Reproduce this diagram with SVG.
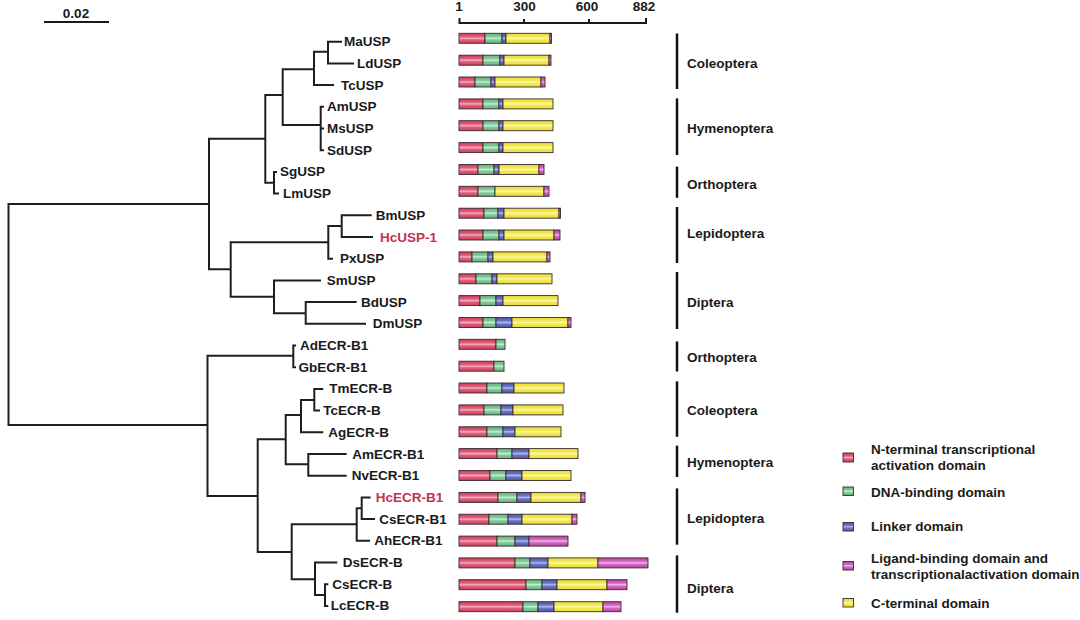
<svg xmlns="http://www.w3.org/2000/svg" width="1080" height="620" viewBox="0 0 1080 620">
<defs>
<linearGradient id="gr" x1="0" y1="0" x2="0" y2="1"><stop offset="0" stop-color="#c93a5a"/><stop offset="0.35" stop-color="#e0617c"/><stop offset="0.5" stop-color="#f6b0c0"/><stop offset="0.65" stop-color="#e0617c"/><stop offset="1" stop-color="#c93a5a"/></linearGradient>
<linearGradient id="gg" x1="0" y1="0" x2="0" y2="1"><stop offset="0" stop-color="#5fb27c"/><stop offset="0.35" stop-color="#86cc9c"/><stop offset="0.5" stop-color="#c4f0d2"/><stop offset="0.65" stop-color="#86cc9c"/><stop offset="1" stop-color="#5fb27c"/></linearGradient>
<linearGradient id="gb" x1="0" y1="0" x2="0" y2="1"><stop offset="0" stop-color="#4a54a8"/><stop offset="0.35" stop-color="#6c76c4"/><stop offset="0.5" stop-color="#b4bcf0"/><stop offset="0.65" stop-color="#6c76c4"/><stop offset="1" stop-color="#4a54a8"/></linearGradient>
<linearGradient id="gy" x1="0" y1="0" x2="0" y2="1"><stop offset="0" stop-color="#e6dc30"/><stop offset="0.35" stop-color="#f2ea58"/><stop offset="0.5" stop-color="#fcf8a8"/><stop offset="0.65" stop-color="#f2ea58"/><stop offset="1" stop-color="#e6dc30"/></linearGradient>
<linearGradient id="gp" x1="0" y1="0" x2="0" y2="1"><stop offset="0" stop-color="#b8409e"/><stop offset="0.35" stop-color="#d06cc0"/><stop offset="0.5" stop-color="#f4b4ec"/><stop offset="0.65" stop-color="#d06cc0"/><stop offset="1" stop-color="#b8409e"/></linearGradient>
</defs>
<style>
text{font-family:"Liberation Sans",Arial,sans-serif;font-weight:bold;font-size:13.5px;fill:#1a1a1a}
.hl{fill:#c4314f}
.mid{text-anchor:middle}
.tree path{fill:none;stroke:#1e1e1e;stroke-width:2}
.ord{stroke:#111;stroke-width:2.5}
.seg{stroke:#3a2a30;stroke-width:0.9}
.bg{fill:#ffffff;stroke:none}
.r{fill:url(#gr)}.g{fill:url(#gg)}.b{fill:url(#gb)}.y{fill:url(#gy)}.p{fill:url(#gp)}
.ax{stroke:#1a1a1a;stroke-width:2;fill:none}
</style>
<rect class="bg" width="1080" height="620"/>

<g id="scale-bar">
<text x="76" y="18" class="mid">0.02</text>
<line x1="44" y1="22" x2="109" y2="22" class="ax"/>
</g>

<g id="axis">
<text x="459" y="11" class="mid">1</text>
<text x="524.5" y="11" class="mid">300</text>
<text x="587" y="11" class="mid">600</text>
<text x="644" y="11" class="mid">882</text>
<path class="ax" d="M459.5,18 V23 H646 V18 M524,19 V24 M589,19 V24"/>
</g>

<g id="connectors" class="tree">
<path d="M209,204 H8.5 V425 H207.5"/>
<path d="M265.3,138.7 H209 V269.3 H230.7"/>
<path d="M282.7,95 H265.3 V182.7 H274"/>
<path d="M314,69.3 H282.7 V125 H320.7"/>
<path d="M328,51.7 H314 V85.1 H334"/>
<path d="M342,41.7 H328 V63.4 H354"/>
<path d="M324,106.8 H320.7 V150.2 H324 M320.7,128.5 H324"/>
<path d="M277,171.9 H274 V193.6 H279"/>
<path d="M328.3,242.3 H230.7 V296.7 H274"/>
<path d="M341.7,226 H328.3 V258.7 H333"/>
<path d="M371.7,215.3 H341.7 V237 H373"/>
<path d="M321,280.4 H274 V313.3 H305.7"/>
<path d="M356.7,302.1 H305.7 V323.8 H366"/>
<path d="M293.3,355.7 H207.5 V496 H257.7"/>
<path d="M296,345.5 H293.3 V367.2 H296"/>
<path d="M285.7,439.3 H257.7 V552 H291.7"/>
<path d="M301,415 H285.7 V464.3 H308.3"/>
<path d="M314.3,400 H301 V432.3 H323.3"/>
<path d="M323.3,388.9 H314.3 V410.6 H320"/>
<path d="M346.7,454 H308.3 V475.7 H346.7"/>
<path d="M356.7,524.3 H291.7 V579.3 H315"/>
<path d="M361.7,508.3 H356.7 V540.8 H370"/>
<path d="M370.7,497.4 H361.7 V519.1 H375"/>
<path d="M337.3,562.5 H315 V595 H325"/>
<path d="M328.3,584.2 H325 V605.9 H328.3"/>
</g>

<g id="MaUSP"><text x="344" y="46.2">MaUSP</text>
<rect class="seg r" x="459" y="33.3" width="26" height="10"/><rect class="seg g" x="485" y="33.3" width="17" height="10"/><rect class="seg b" x="502" y="33.3" width="4" height="10"/><rect class="seg y" x="506" y="33.3" width="44" height="10"/><rect class="seg p" x="550" y="33.3" width="1.5" height="10"/></g>
<g id="LdUSP"><text x="357" y="67.9">LdUSP</text>
<rect class="seg r" x="459" y="55.2" width="24" height="10"/><rect class="seg g" x="483" y="55.2" width="17" height="10"/><rect class="seg b" x="500" y="55.2" width="4" height="10"/><rect class="seg y" x="504" y="55.2" width="45" height="10"/><rect class="seg p" x="549" y="55.2" width="2" height="10"/></g>
<g id="TcUSP"><text x="341" y="89.6">TcUSP</text>
<rect class="seg r" x="459" y="77" width="16" height="10"/><rect class="seg g" x="475" y="77" width="16" height="10"/><rect class="seg b" x="491" y="77" width="4" height="10"/><rect class="seg y" x="495" y="77" width="46" height="10"/><rect class="seg p" x="541" y="77" width="4" height="10"/></g>
<g id="AmUSP"><text x="327" y="111.3">AmUSP</text>
<rect class="seg r" x="459" y="98.9" width="24" height="10"/><rect class="seg g" x="483" y="98.9" width="16" height="10"/><rect class="seg b" x="499" y="98.9" width="4" height="10"/><rect class="seg y" x="503" y="98.9" width="50" height="10"/></g>
<g id="MsUSP"><text x="327" y="133">MsUSP</text>
<rect class="seg r" x="459" y="120.7" width="24" height="10"/><rect class="seg g" x="483" y="120.7" width="16" height="10"/><rect class="seg b" x="499" y="120.7" width="4" height="10"/><rect class="seg y" x="503" y="120.7" width="50" height="10"/></g>
<g id="SdUSP"><text x="327" y="154.7">SdUSP</text>
<rect class="seg r" x="459" y="142.6" width="24" height="10"/><rect class="seg g" x="483" y="142.6" width="16" height="10"/><rect class="seg b" x="499" y="142.6" width="4" height="10"/><rect class="seg y" x="503" y="142.6" width="50" height="10"/></g>
<g id="SgUSP"><text x="280" y="176.4">SgUSP</text>
<rect class="seg r" x="459" y="164.5" width="19" height="10"/><rect class="seg g" x="478" y="164.5" width="16" height="10"/><rect class="seg b" x="494" y="164.5" width="5" height="10"/><rect class="seg y" x="499" y="164.5" width="40" height="10"/><rect class="seg p" x="539" y="164.5" width="5" height="10"/></g>
<g id="LmUSP"><text x="283" y="198.1">LmUSP</text>
<rect class="seg r" x="459" y="186.3" width="19" height="10"/><rect class="seg g" x="478" y="186.3" width="17" height="10"/><rect class="seg y" x="495" y="186.3" width="49" height="10"/><rect class="seg p" x="544" y="186.3" width="5" height="10"/></g>
<g id="BmUSP"><text x="375.7" y="219.8">BmUSP</text>
<rect class="seg r" x="459" y="208.2" width="25" height="10"/><rect class="seg g" x="484" y="208.2" width="14" height="10"/><rect class="seg b" x="498" y="208.2" width="6" height="10"/><rect class="seg y" x="504" y="208.2" width="55" height="10"/><rect class="seg p" x="559" y="208.2" width="1.5" height="10"/></g>
<g id="HcUSP-1"><text x="380" y="241.5" class="hl">HcUSP-1</text>
<rect class="seg r" x="459" y="230" width="24" height="10"/><rect class="seg g" x="483" y="230" width="16" height="10"/><rect class="seg b" x="499" y="230" width="5" height="10"/><rect class="seg y" x="504" y="230" width="50" height="10"/><rect class="seg p" x="554" y="230" width="6" height="10"/></g>
<g id="PxUSP"><text x="340" y="263.2">PxUSP</text>
<rect class="seg r" x="459" y="251.9" width="13" height="10"/><rect class="seg g" x="472" y="251.9" width="16" height="10"/><rect class="seg b" x="488" y="251.9" width="5" height="10"/><rect class="seg y" x="493" y="251.9" width="54" height="10"/><rect class="seg p" x="547" y="251.9" width="3" height="10"/></g>
<g id="SmUSP"><text x="326.7" y="284.9">SmUSP</text>
<rect class="seg r" x="459" y="273.8" width="17" height="10"/><rect class="seg g" x="476" y="273.8" width="16" height="10"/><rect class="seg b" x="492" y="273.8" width="5" height="10"/><rect class="seg y" x="497" y="273.8" width="55" height="10"/></g>
<g id="BdUSP"><text x="361" y="306.6">BdUSP</text>
<rect class="seg r" x="459" y="295.6" width="21" height="10"/><rect class="seg g" x="480" y="295.6" width="16" height="10"/><rect class="seg b" x="496" y="295.6" width="7" height="10"/><rect class="seg y" x="503" y="295.6" width="55" height="10"/></g>
<g id="DmUSP"><text x="372.7" y="328.3">DmUSP</text>
<rect class="seg r" x="459" y="317.5" width="24" height="10"/><rect class="seg g" x="483" y="317.5" width="13" height="10"/><rect class="seg b" x="496" y="317.5" width="16" height="10"/><rect class="seg y" x="512" y="317.5" width="56" height="10"/><rect class="seg p" x="568" y="317.5" width="3" height="10"/></g>
<g id="AdECR-B1"><text x="300" y="350">AdECR-B1</text>
<rect class="seg r" x="459" y="339.3" width="37" height="10"/><rect class="seg g" x="496" y="339.3" width="9" height="10"/></g>
<g id="GbECR-B1"><text x="298.5" y="371.7">GbECR-B1</text>
<rect class="seg r" x="459" y="361.2" width="35" height="10"/><rect class="seg g" x="494" y="361.2" width="10" height="10"/></g>
<g id="TmECR-B"><text x="329.3" y="393.4">TmECR-B</text>
<rect class="seg r" x="459" y="383" width="28" height="10"/><rect class="seg g" x="487" y="383" width="15" height="10"/><rect class="seg b" x="502" y="383" width="12" height="10"/><rect class="seg y" x="514" y="383" width="50" height="10"/></g>
<g id="TcECR-B"><text x="323.3" y="415.1">TcECR-B</text>
<rect class="seg r" x="459" y="404.9" width="25" height="10"/><rect class="seg g" x="484" y="404.9" width="17" height="10"/><rect class="seg b" x="501" y="404.9" width="12" height="10"/><rect class="seg y" x="513" y="404.9" width="50" height="10"/></g>
<g id="AgECR-B"><text x="328.3" y="436.8">AgECR-B</text>
<rect class="seg r" x="459" y="426.8" width="28" height="10"/><rect class="seg g" x="487" y="426.8" width="16" height="10"/><rect class="seg b" x="503" y="426.8" width="12" height="10"/><rect class="seg y" x="515" y="426.8" width="46" height="10"/></g>
<g id="AmECR-B1"><text x="352.3" y="458.5">AmECR-B1</text>
<rect class="seg r" x="459" y="448.6" width="38" height="10"/><rect class="seg g" x="497" y="448.6" width="15" height="10"/><rect class="seg b" x="512" y="448.6" width="17" height="10"/><rect class="seg y" x="529" y="448.6" width="49" height="10"/></g>
<g id="NvECR-B1"><text x="351.7" y="480.2">NvECR-B1</text>
<rect class="seg r" x="459" y="470.5" width="31" height="10"/><rect class="seg g" x="490" y="470.5" width="16" height="10"/><rect class="seg b" x="506" y="470.5" width="16" height="10"/><rect class="seg y" x="522" y="470.5" width="49" height="10"/></g>
<g id="HcECR-B1"><text x="375.7" y="501.9" class="hl">HcECR-B1</text>
<rect class="seg r" x="459" y="492.4" width="39" height="10"/><rect class="seg g" x="498" y="492.4" width="19" height="10"/><rect class="seg b" x="517" y="492.4" width="14" height="10"/><rect class="seg y" x="531" y="492.4" width="50" height="10"/><rect class="seg p" x="581" y="492.4" width="4" height="10"/></g>
<g id="CsECR-B1"><text x="379.3" y="523.6">CsECR-B1</text>
<rect class="seg r" x="459" y="514.2" width="30" height="10"/><rect class="seg g" x="489" y="514.2" width="19" height="10"/><rect class="seg b" x="508" y="514.2" width="14" height="10"/><rect class="seg y" x="522" y="514.2" width="50" height="10"/><rect class="seg p" x="572" y="514.2" width="5" height="10"/></g>
<g id="AhECR-B1"><text x="374.3" y="545.3">AhECR-B1</text>
<rect class="seg r" x="459" y="536.1" width="38" height="10"/><rect class="seg g" x="497" y="536.1" width="18" height="10"/><rect class="seg b" x="515" y="536.1" width="14" height="10"/><rect class="seg p" x="529" y="536.1" width="39" height="10"/></g>
<g id="DsECR-B"><text x="342.7" y="567">DsECR-B</text>
<rect class="seg r" x="459" y="557.9" width="56" height="10"/><rect class="seg g" x="515" y="557.9" width="15" height="10"/><rect class="seg b" x="530" y="557.9" width="18" height="10"/><rect class="seg y" x="548" y="557.9" width="50" height="10"/><rect class="seg p" x="598" y="557.9" width="50" height="10"/></g>
<g id="CsECR-B"><text x="332.3" y="588.7">CsECR-B</text>
<rect class="seg r" x="459" y="579.7" width="67" height="10"/><rect class="seg g" x="526" y="579.7" width="16" height="10"/><rect class="seg b" x="542" y="579.7" width="15" height="10"/><rect class="seg y" x="557" y="579.7" width="50" height="10"/><rect class="seg p" x="607" y="579.7" width="20" height="10"/></g>
<g id="LcECR-B"><text x="330.7" y="610.4">LcECR-B</text>
<rect class="seg r" x="459" y="601.7" width="64" height="10"/><rect class="seg g" x="523" y="601.7" width="15" height="10"/><rect class="seg b" x="538" y="601.7" width="16" height="10"/><rect class="seg y" x="554" y="601.7" width="49" height="10"/><rect class="seg p" x="603" y="601.7" width="18" height="10"/></g>

<g id="orders">
<line class="ord" x1="677" y1="33.5" x2="677" y2="89"/><text x="687" y="67.5">Coleoptera</text>
<line class="ord" x1="677" y1="98.4" x2="677" y2="155"/><text x="687" y="133">Hymenoptera</text>
<line class="ord" x1="677" y1="166.6" x2="677" y2="197.8"/><text x="687" y="188.5">Orthoptera</text>
<line class="ord" x1="677" y1="207" x2="677" y2="263"/><text x="687" y="238">Lepidoptera</text>
<line class="ord" x1="677" y1="272" x2="677" y2="329"/><text x="687" y="307">Diptera</text>
<line class="ord" x1="677" y1="341.5" x2="677" y2="371.5"/><text x="687" y="362">Orthoptera</text>
<line class="ord" x1="677" y1="381.4" x2="677" y2="436.8"/><text x="687" y="415">Coleoptera</text>
<line class="ord" x1="677" y1="445.6" x2="677" y2="477"/><text x="687" y="466.5">Hymenoptera</text>
<line class="ord" x1="677" y1="488.4" x2="677" y2="544.7"/><text x="687" y="522.5">Lepidoptera</text>
<line class="ord" x1="677" y1="555.4" x2="677" y2="612.7"/><text x="687" y="592.5">Diptera</text>
</g>

<g id="legend">
<rect class="seg r" x="843" y="453" width="10.5" height="9"/><text x="871" y="454">N-terminal transcriptional</text><text x="871" y="470">activation domain</text>
<rect class="seg g" x="843" y="487" width="10.5" height="8.5"/><text x="871" y="496.5">DNA-binding domain</text>
<rect class="seg b" x="843" y="522.5" width="10.5" height="8.5"/><text x="871" y="531">Linker domain</text>
<rect class="seg p" x="843" y="561.5" width="10.5" height="8.5"/><text x="871" y="563">Ligand-binding domain and</text><text x="871" y="579">transcriptionalactivation domain</text>
<rect class="seg y" x="843" y="598.5" width="10.5" height="8.5"/><text x="871" y="608">C-terminal domain</text>
</g>
</svg>
